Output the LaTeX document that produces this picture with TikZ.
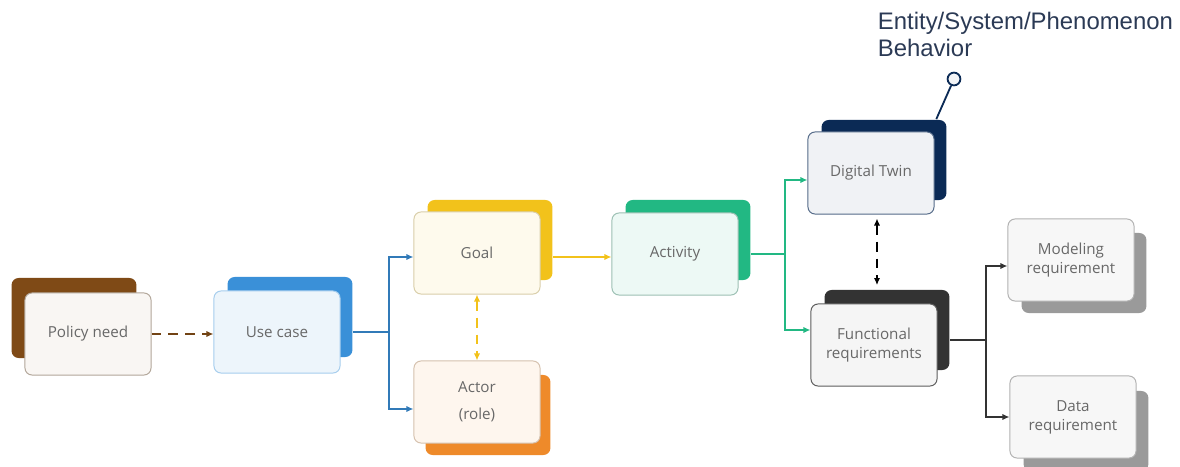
\documentclass[tikz,border=0pt]{standalone}
\usepackage{fontspec}
\setmainfont{Open Sans}
\newfontfamily\titlefont{Liberation Sans}
\usetikzlibrary{arrows.meta,calc}

\definecolor{pnback}{HTML}{7F4A16}
\definecolor{ucback}{HTML}{3A90D8}
\definecolor{goalback}{HTML}{F2C21B}
\definecolor{actorback}{HTML}{EE8A2A}
\definecolor{actback}{HTML}{22B883}
\definecolor{dtback}{HTML}{0B2A55}
\definecolor{frback}{HTML}{333333}
\definecolor{reqback}{HTML}{9A9A9A}
\definecolor{boxtext}{HTML}{686868}
\definecolor{titletext}{HTML}{2B3A55}

\begin{document}
\begin{tikzpicture}[
    x = 0.025cm, y = -0.025cm, % pixel grid
    > = {Latex[length=5pt,width=4.5pt]}, % arrow head style
    line width = 1.3pt % line style
    ]

    \tikzset{
    card/.style = {
        draw = #1,
        line width = 0.7pt,
        rounded corners = 5pt,
        minimum width = 3.15cm,
        minimum height = 2.05cm,
        align = center,
        font = \fontsize{10.8}{13.5}\selectfont,
        text = boxtext
    },
    cardback/.style = {
        fill = #1,
        rounded corners = 5pt,
        minimum width = 3.12cm,
        minimum height = 2cm
    },
    dashes/.style = {dash pattern = on 7pt off 5pt}
    }

    \useasboundingbox (0,0) rectangle (1180,467);

    % back cards
    \node[cardback=pnback]    (pn-b)    at (74,318)    {};
    \node[cardback=ucback]    (uc-b)    at (290,317)   {};
    \node[cardback=goalback]  (goal-b)  at (490,240)   {};
    \node[cardback=actorback] (actor-b) at (488,415)   {};
    \node[cardback=actback]   (act-b)   at (688,240)   {};
    \node[cardback=dtback]    (dt-b)    at (884,160)   {};
    \node[cardback=frback]    (fr-b)    at (887,330)   {};
    \node[cardback=reqback]   (mr-b)    at (1084,273)  {};
    \node[cardback=reqback]   (dr-b)    at (1086,431)  {};

    % front cards
    \node[card=pnback!40!gray!60, fill=pnback!5]     (pn)    at (88,334)    {Policy need};
    \node[card=ucback!45, fill=ucback!9]             (uc)    at (277,332)   {Use case};
    \node[card=goalback!45!gray!50, fill=goalback!8] (goal)  at (477,253)   {Goal};
    \node[card=actorback!40!gray!50, fill=actorback!8] (actor) at (477,402) {Actor\\[6pt](role)};
    \node[card=actback!40!gray!60, fill=actback!8]   (act)   at (675,254)   {Activity};
    \node[card=dtback!70, fill=dtback!6]             (dt)    at (871,173)   {Digital Twin};
    \node[card=frback!80, fill=black!4]              (fr)    at (874,345)   {Functional\\requirements};
    \node[card=black!30, fill=black!3]               (mr)    at (1071,260)  {Modeling\\requirement};
    \node[card=black!30, fill=black!3]               (dr)    at (1073,417)  {Data\\requirement};

    % behaviour note
    \node[circle, draw=dtback, fill=dtback!5, line width=1.3pt, minimum size=0.32cm, inner sep=0pt] (beh) at (954,79) {};
    \draw[dtback, line width=1.3pt] ($(dt-b.north east)+(-11,0)$) -- (beh);
    \node[anchor=north west, align=left, text=titletext, font=\titlefont\fontsize{17}{19.5}\selectfont, inner sep=0pt]
        (ttl) at (877,11) {Entity/System/Phenomenon\\Behavior};

    % connectors
    \draw[->, pnback!90!black, dashes] (pn.east) -- (pn.east -| uc.west);
    \draw[->, ucback!85!black] (uc-b.east |- uc.east) -- ++(36,0) |- ($(goal.west)+(0,4)$);
    \draw[->, ucback!85!black] (uc-b.east |- uc.east) -- ++(36,0) |- ($(actor.west)+(0,7)$);
    \draw[<->, goalback, dashes] (goal.south) -- (actor.north);
    \draw[->, goalback] ($(goal-b.east |- goal.east)+(0,4)$) -- (act.west |- 0,257);
    \draw[->, actback] (act-b.east |- act.east) -- ++(34,0) |- ($(dt.west)+(0,7)$);
    \draw[->, actback] (act-b.east |- act.east) -- ++(34,0) |- ($(fr.west)+(0,-15)$);
    \draw[<->, black, dashes] ($(dt.south)+(6,4)$) -- ($(dt.south |- fr-b.north)+(6,-4)$);
    \draw[->, frback] ($(fr-b.east |- fr.east)+(0,-5)$) -- ++(36,0) |- ($(mr.west)+(0,6)$);
    \draw[->, frback] ($(fr-b.east |- fr.east)+(0,-5)$) -- ++(36,0) |- (dr.west);
\end{tikzpicture}
\end{document}
